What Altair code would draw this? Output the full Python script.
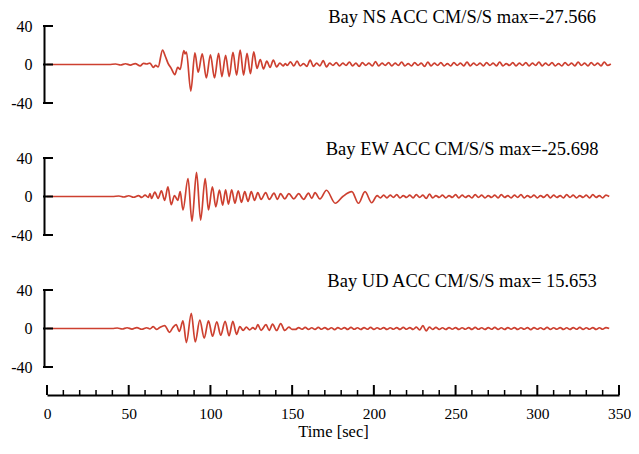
import altair as alt
import pandas as pd

# ---------------- data ----------------
X_MAJOR = [0, 50, 100, 150, 200, 250, 300, 350]
X_MINOR = [10, 20, 30, 40, 60, 70, 80, 90, 110, 120, 130, 140, 160, 170, 180, 190,
           210, 220, 230, 240, 260, 270, 280, 290, 310, 320, 330, 340]
Y_TICKS = [-40, 0, 40]

TITLES = ["Bay NS ACC CM/S/S max=-27.566",
          "Bay EW ACC CM/S/S max=-25.698",
          "Bay UD ACC CM/S/S max= 15.653"]

# NS component: strong-motion part (time, value)
ns_t = [0, 38, 42, 45, 48, 51, 54, 57, 59, 61, 63, 65, 66.5, 68, 70.7, 72.5, 74, 76, 78.2, 80,
        81.5, 83.7, 84.5, 85.3, 88, 90.5, 92.5, 95, 97.5, 100, 102.5, 105, 107, 109.3, 111.5,
        113.8, 116, 118.2, 120.3, 122.4, 124.5, 126.5, 128.5, 130.5, 132.5, 134.5, 136.5,
        138.5, 140.5, 142.5, 144.5, 145.8]
ns_v = [0, 0, 0.5, -0.5, 0.8, -0.6, 1.0, -1.5, 1.2, 0.5, 1.5, -3.0, -1.0, -2.5, 15.0, 8.0, 1.5,
        -4.0, -10.5, -3.0, -5.0, 14.5, 11.0, 13.0, -27.566, 12.0, -8.0, 11.0, -14.0, 10.0,
        -14.0, 11.5, -12.5, 9.5, -12.5, 12.5, -11.0, 15.0, -11.0, 11.5, -9.5, 13.2, -4.0, 5.0,
        -4.5, 3.5, -3.0, 4.5, -2.5, 1.5, -1.5, 1.0]
# NS coda, every 2 s from 147 s
ns_tail_t = list(range(147, 346, 2))
ns_tail_v = [-1.0, 2.8, -1.5, 3.5, -1.5, 1.0, -2.0, 4.5, -2.0, 1.5,
             -1.5, 4.0, -2.5, 1.5, -1.0, 2.0, -1.5, 1.5, -1.0, 2.5,
             -1.5, 1.5, -2.0, 2.0, -1.0, 1.5, -1.5, 3.0, -1.5, 1.5,
             -1.0, 2.0, -1.5, 1.5, -1.0, 2.5, -1.5, 1.0, -1.5, 2.0,
             -1.0, 1.5, -2.0, 2.5, -1.5, 1.5, -1.0, 2.0, -1.5, 1.0,
             -1.5, 2.0, -1.0, 1.5, -1.5, 2.5, -1.5, 1.5, -1.0, 1.5,
             -1.5, 2.0, -1.0, 1.5, -1.5, 2.5, -1.5, 1.0, -1.0, 2.0,
             -1.5, 1.5, -1.0, 2.0, -1.5, 1.5, -1.0, 2.5, -1.5, 1.5,
             -1.0, 2.0, -1.5, 1.0, -1.5, 2.0, -1.0, 1.5, -1.5, 2.5,
             -1.0, 1.5, -1.5, 2.0, -1.0, 1.5, -1.5, 2.5, -1.0, 0.5]

# EW component
ew_t = [0, 40, 44, 47, 50, 53, 56, 58, 60, 62, 63, 64, 66, 68, 70, 72, 74, 76, 78, 80, 81.5,
        83.2, 86.3, 88.7, 91.5, 94, 96.8, 98.8, 101.2, 103.3, 105.5, 107.5, 109.3, 111, 113,
        115, 117, 119, 121, 123, 125, 127, 129, 131, 133.8, 136, 138.9, 141, 142.9, 145.5,
        148, 151, 154, 157, 160, 162, 164, 167, 171, 176.4, 181, 186.5, 190.6, 194.6, 198.7,
        202, 204, 206]
ew_v = [0, 0, 0.5, -0.5, 0.8, -0.8, 1.0, -1.0, 1.5, -1.0, 3.0, -2.0, 4.5, -2.0, 6.0, -4.0,
        10.0, -8.5, 1.0, -4.0, 5.0, -14.0, 18.7, -25.698, 25.0, -24.5, 18.7, -14.0, 10.0,
        -10.7, 6.6, -9.0, 7.0, -8.0, 7.0, -7.0, 6.0, -6.0, 5.0, -5.0, 5.0, -4.0, 4.0, -3.0,
        4.0, -3.0, 3.5, -3.0, 3.0, -2.5, 3.0, -2.5, 3.0, -3.0, 3.5, -2.0, 4.0, -2.5, 6.5,
        -7.0, 0.0, 5.0, -7.0, 5.0, -6.5, 1.0, -1.5, 1.5]
ew_tail_t = list(range(208, 345, 2))
ew_tail_v = [-1.5, 1.5, -1.0, 2.0, -1.5, 1.0, -1.0, 1.5, -1.5, 2.0,
             -1.0, 1.5, -2.0, 2.5, -1.5, 1.0, -1.0, 1.5, -1.5, 1.0,
             -1.0, 2.0, -1.5, 1.5, -1.0, 1.0, -1.5, 2.0, -1.0, 1.5,
             -1.5, 1.0, -1.0, 1.5, -1.5, 2.0, -1.0, 1.0, -1.5, 1.5,
             -1.0, 2.0, -1.5, 1.0, -1.0, 1.5, -1.5, 1.0, -1.0, 2.0,
             -1.5, 1.5, -1.0, 1.0, -1.5, 2.0, -1.0, 1.5, -1.5, 1.0,
             -1.0, 1.5, -1.5, 2.0, -1.0, 1.0, -1.5, 1.5, 0.0]

# UD component
ud_t = [0, 40, 43, 46, 49, 52, 55, 58, 61, 63, 65, 67, 69, 72, 75, 77, 79, 81, 83.2, 85.3,
        88.3, 90.7, 93.5, 96.2, 98.8, 101.3, 103.9, 106.3, 109, 111.4, 113.7, 116, 118, 120,
        122, 124, 126, 127.5, 129, 131, 134, 136, 138, 140.5, 143, 145.5, 148, 150]
ud_v = [0, 0, 0.5, -0.5, 0.8, -0.6, 1.0, -0.8, 0.8, -0.5, 2.0, -1.0, 1.0, 3.0, -4.0, 1.0,
        4.0, -3.0, 8.0, -14.6, 15.653, -14.0, 8.7, -10.0, 8.0, -8.0, 7.0, -7.0, 7.5, -7.5,
        7.5, -6.0, 2.0, -2.0, 1.5, -1.5, 1.0, -1.0, 4.0, -2.0, 4.0, -2.0, 4.5, -2.0, 5.0,
        -2.0, 1.5, -1.0]
ud_tail_t = list(range(152, 345, 2))
ud_tail_v = [-1.0, 1.0, -0.8, 1.2, -1.0, 0.8, -1.0, 1.2, -0.8, 1.0,
             -1.0, 0.8, -1.2, 1.0, -0.8, 1.0, -1.0, 1.2, -0.8, 0.8,
             -1.0, 1.0, -0.8, 1.2, -1.0, 0.8, -0.8, 1.0, -1.0, 0.8,
             -0.8, 1.0, -1.0, 1.2, -0.8, 1.0, -1.0, 1.5, -1.5, 3.0,
             -2.5, 1.5, -1.0, 1.2, -1.0, 0.8, -1.0, 1.0, -0.8, 1.0,
             -1.0, 0.8, -0.8, 1.0, -1.0, 1.2, -0.8, 0.8, -1.0, 1.0,
             -0.8, 1.2, -1.0, 0.8, -1.0, 1.0, -0.8, 1.0, -1.0, 0.8,
             -0.8, 1.0, -1.2, 1.0, -0.8, 0.8, -1.0, 1.2, -1.0, 0.8,
             -0.8, 1.0, -1.0, 0.8, -1.0, 1.0, -0.8, 1.2, -1.0, 0.8,
             -0.8, 1.0, -1.0, 0.8, -0.8, 1.0, 0.0]

# ---------------- styling ----------------
RED = "#cd4030"
FONT = "Liberation Serif"
W, H = 572, 77
XAXIS_OFFSET = 28

x_scale = alt.Scale(domain=[0, 350], nice=False, zero=False)
y_scale = alt.Scale(domain=[-40, 40], nice=False, zero=False)

HYPHEN_LABEL = "datum.value < 0 ? '-' + abs(datum.value) : '' + datum.value"

X_AXIS = alt.Axis(values=X_MAJOR, ticks=False, domain=True, domainColor="black",
                  domainWidth=2, offset=XAXIS_OFFSET, labelPadding=11,
                  labelFont=FONT, labelFontSize=15.5, labelColor="black",
                  labelOverlap=False, labelFlush=False,
                  title="Time [sec]", titleFont=FONT, titleFontSize=16.5,
                  titleFontWeight="normal", titleColor="black", titlePadding=2,
                  grid=False)
Y_AXIS = alt.Axis(values=Y_TICKS, ticks=False, domain=True, domainColor="black",
                  domainWidth=2, offset=3, labelPadding=12, labelFont=FONT,
                  labelFontSize=16, labelColor="black", labelOverlap=False,
                  labelExpr=HYPHEN_LABEL, title=None, grid=False)


def panel(t, v, title, bottom):
    df = pd.DataFrame({"t": t, "v": v})
    xaxis = X_AXIS if bottom else None
    line = alt.Chart(df).mark_line(color=RED, strokeWidth=1.7, interpolate="monotone").encode(
        x=alt.X("t:Q", scale=x_scale, axis=xaxis),
        y=alt.Y("v:Q", scale=y_scale, axis=Y_AXIS),
    )
    yt = alt.Chart(pd.DataFrame({"v": Y_TICKS})).mark_rule(
        color="black", strokeWidth=2, strokeCap="square").encode(
        y=alt.Y("v:Q", scale=y_scale, axis=Y_AXIS), x=alt.value(-3), x2=alt.value(5))
    label = alt.Chart().mark_text(text=title, font=FONT, fontSize=18.5, color="black",
                                  baseline="alphabetic", align="center", dy=-3).encode(
        x=alt.datum(254, scale=x_scale, axis=xaxis),
        y=alt.datum(40, scale=y_scale, axis=Y_AXIS))
    layers = [line, yt, label]
    if bottom:
        major = alt.Chart(pd.DataFrame({"t": X_MAJOR})).mark_rule(
            color="black", strokeWidth=2).encode(
            x=alt.X("t:Q", scale=x_scale, axis=X_AXIS), y=alt.value(H + XAXIS_OFFSET),
            y2=alt.value(H + XAXIS_OFFSET - 10))
        minor = alt.Chart(pd.DataFrame({"t": X_MINOR})).mark_rule(
            color="black", strokeWidth=1.5).encode(
            x=alt.X("t:Q", scale=x_scale, axis=X_AXIS), y=alt.value(H + XAXIS_OFFSET),
            y2=alt.value(H + XAXIS_OFFSET - 5))
        layers += [major, minor]
    return alt.layer(*layers).properties(width=W, height=H)


p1 = panel(ns_t + ns_tail_t, ns_v + ns_tail_v, TITLES[0], False)
p2 = panel(ew_t + ew_tail_t, ew_v + ew_tail_v, TITLES[1], False)
p3 = panel(ud_t + ud_tail_t, ud_v + ud_tail_v, TITLES[2], True)

chart = alt.vconcat(p1, p2, p3, spacing=55, bounds="flush").properties(
    padding={"left": 2, "top": 0, "right": 0, "bottom": 0},
    background="white",
).configure_view(stroke=None)

chart.save("out.html", embed_options={"renderer": "svg", "actions": False})
